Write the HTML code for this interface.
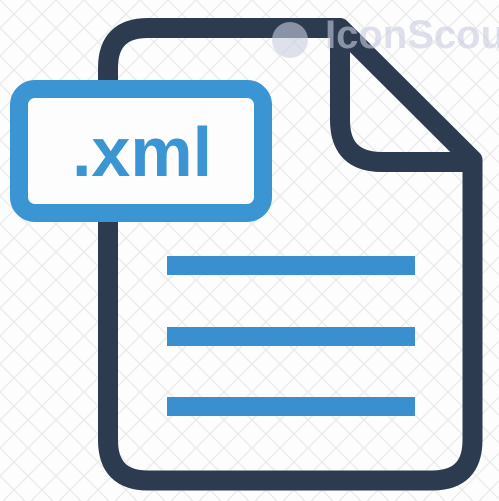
<!DOCTYPE html>
<html><head><style>
html,body{margin:0;padding:0;background:#fdfdfd;}
svg{display:block}
</style></head><body>
<svg width="499" height="501" viewBox="0 0 499 501" xmlns="http://www.w3.org/2000/svg">
<defs>
<pattern id="p" width="28" height="28" patternUnits="userSpaceOnUse">
<path d="M0 0L28 28M28 0L0 28" stroke="#ececec" stroke-width="1.5"/>
</pattern>
</defs>
<rect width="499" height="501" fill="#fdfdfd"/>
<rect width="499" height="501" fill="url(#p)"/>
<path d="M340 28 L148 28 Q108 28 108 68 L108 440 Q108 480.5 148 480.5 L432 480.5 Q472.5 480.5 472.5 440 L472.5 160 Z" fill="none" stroke="#2c3b50" stroke-width="20" stroke-linejoin="round"/>
<path d="M340 28 L340 120 Q340 162 382 162 L472 162" fill="none" stroke="#2c3b50" stroke-width="20" stroke-linejoin="round"/>
<rect x="167" y="256" width="248" height="19" fill="#3a8fcf"/>
<rect x="167" y="327" width="248" height="19" fill="#3a8fcf"/>
<rect x="167" y="397" width="248" height="19" fill="#3a8fcf"/>
<rect x="19" y="89" width="244" height="124" rx="16" fill="#fdfdfd" stroke="#3a95d2" stroke-width="18"/>
<text x="142" y="176" text-anchor="middle" font-family="Liberation Sans, sans-serif" font-weight="bold" font-size="70" fill="#3a95d2">.xml</text>
<circle cx="290" cy="40" r="18" fill="#c9cde0" opacity="0.6"/>
<text x="325" y="48" font-family="Liberation Sans, sans-serif" font-weight="bold" font-size="40" fill="#c9cde0" opacity="0.6">IconScout</text>
</svg>
</body></html>
